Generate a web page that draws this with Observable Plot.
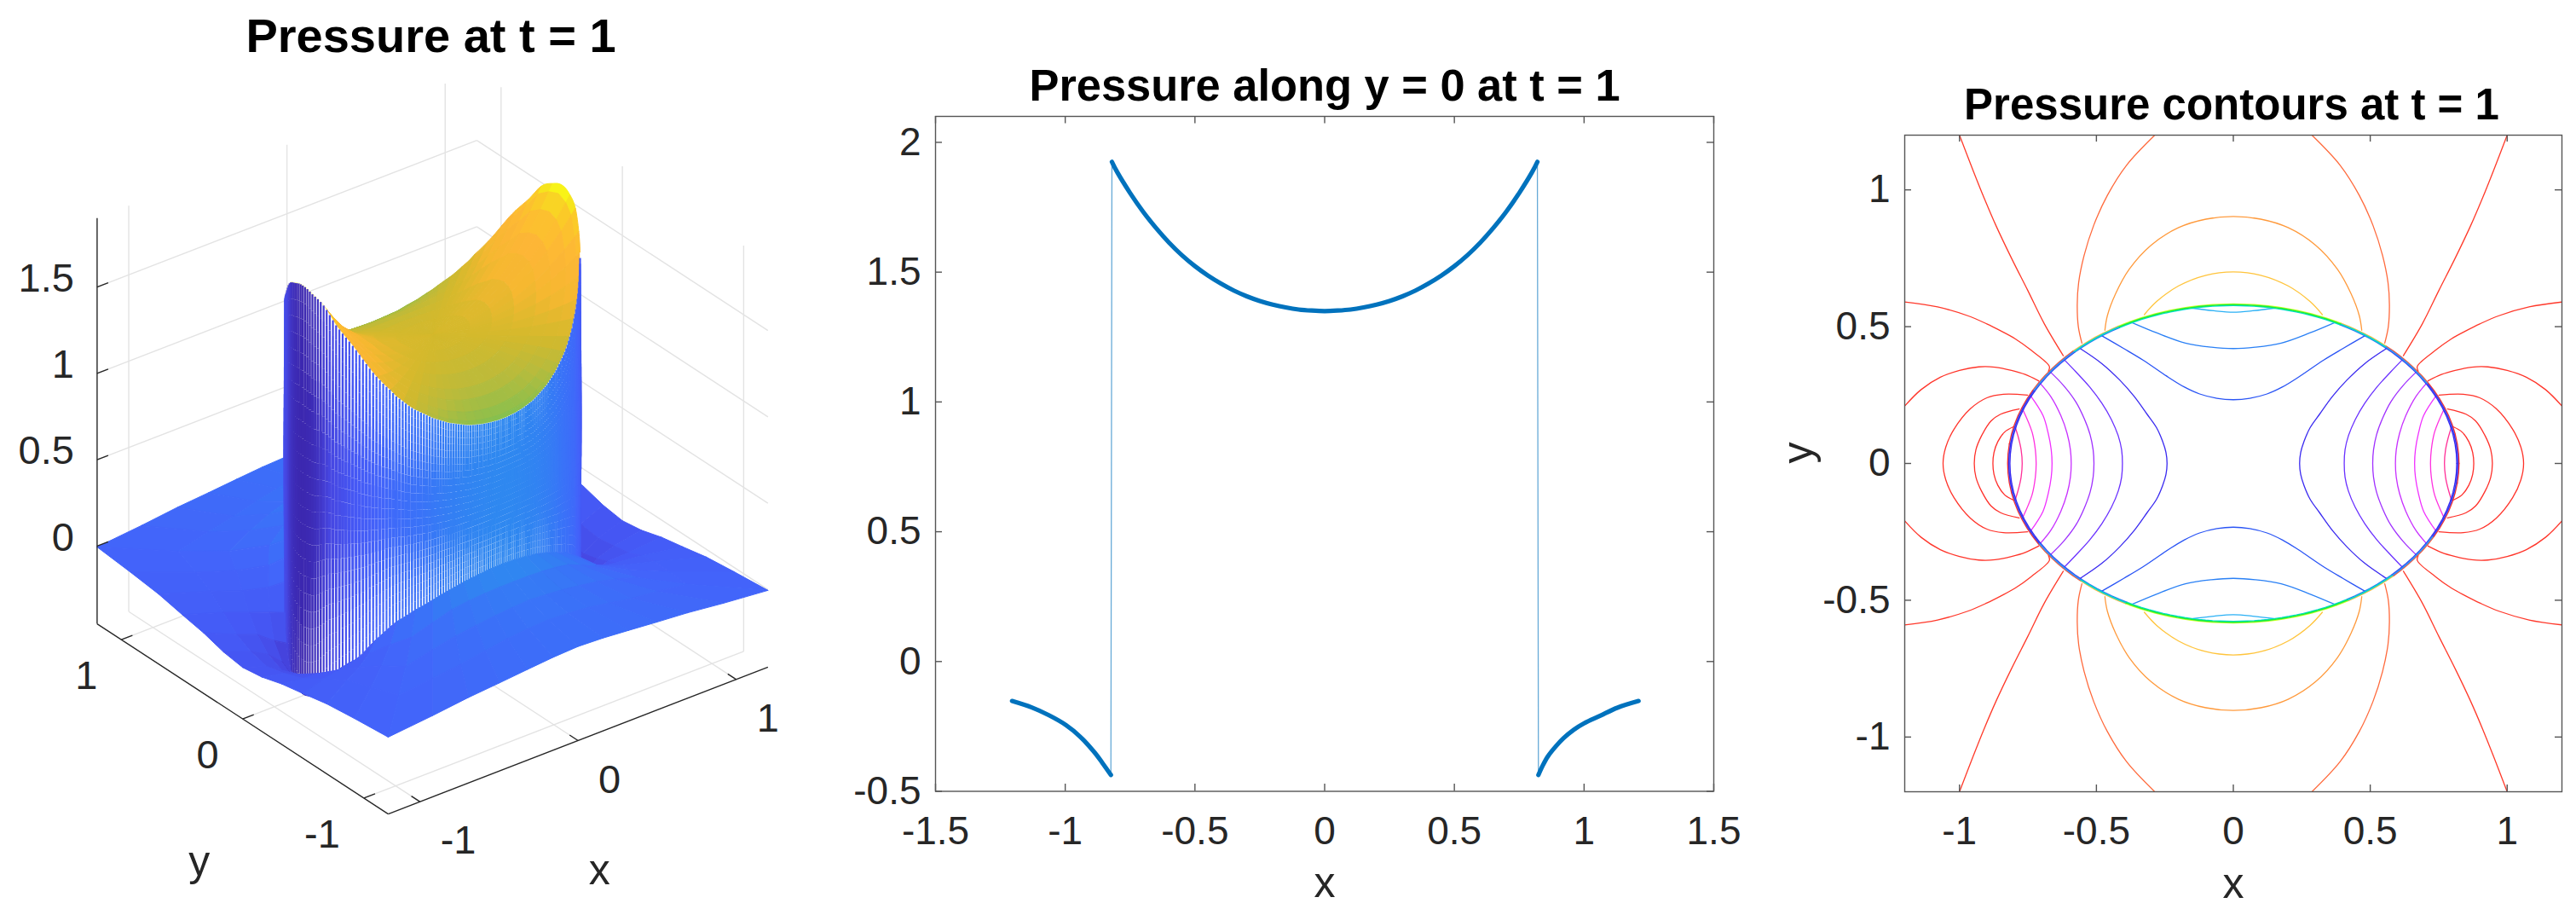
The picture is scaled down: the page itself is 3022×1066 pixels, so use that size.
<!DOCTYPE html>
<html>
<head>
<meta charset="utf-8">
<script src="https://cdn.jsdelivr.net/npm/d3@7"></script>
<script src="https://cdn.jsdelivr.net/npm/@observablehq/plot@0.6"></script>
<style>
html,body{margin:0;padding:0;background:#fff;width:3022px;height:1066px;overflow:hidden;font-family:"Liberation Sans",Arial,sans-serif}
.panel{position:absolute;top:0}
</style>
</head>
<body>
<div class="panel" id="p1" style="left:0"></div>
<div class="panel" id="p2" style="left:1000px"></div>
<div class="panel" id="p3" style="left:2050px"></div>
<script>
// ---------- shared text ----------
const title1 = "Pressure at t = 1";
const title2 = "Pressure along y = 0 at t = 1";
const title3 = "Pressure contours at t = 1";
const ink = "#262626";
const edge = "#555555";
const font = "Liberation Sans";

// ---------- panel 2: pressure along y = 0 ----------
const leftX  = [-1.205,-1.129,-1.063,-0.997,-0.943,-0.888,-0.855,-0.824];
const leftP  = [-0.152,-0.177,-0.207,-0.245,-0.289,-0.349,-0.393,-0.437];
const rightX = [0.824,0.84,0.86,0.89,0.92,0.96,1.0,1.062,1.128,1.21];
const rightP = [-0.437,-0.402,-0.366,-0.328,-0.296,-0.263,-0.238,-0.209,-0.178,-0.152];
const midX = [-0.82,-0.8,-0.75,-0.7,-0.65,-0.6,-0.55,-0.5,-0.45,-0.4,-0.35,-0.3,-0.25,-0.2,-0.15,-0.1,-0.05,0,0.05,0.1,0.15,0.2,0.25,0.3,0.35,0.4,0.45,0.5,0.55,0.6,0.65,0.7,0.75,0.8,0.82];
const midP = [1.925,1.886,1.805,1.733,1.67,1.614,1.565,1.523,1.487,1.456,1.429,1.407,1.389,1.375,1.364,1.356,1.352,1.35,1.352,1.356,1.364,1.375,1.389,1.407,1.429,1.456,1.487,1.523,1.565,1.614,1.67,1.733,1.805,1.886,1.925];
const lineTicksX = [-1.5,-1,-0.5,0,0.5,1,1.5];
const lineTicksY = [-0.5,0,0.5,1,1.5,2];

// ---------- panel 3: contour lines, first quadrant, [x, y] ----------
const contourLevels = [-0.35,-0.27,-0.20,-0.13,-0.06,0.01,0.08,0.15,0.22,1.15,1.23,1.31,1.39,1.47,1.55,1.63,1.71,1.79,1.87];
const contourPaths = [
  [[0.878,0],[0.874,0.04],[0.86,0.08],[0.835,0.115],[0.803,0.134]],
  [[0.946,0],[0.94,0.05],[0.92,0.10],[0.885,0.155],[0.85,0.18],[0.782,0.199]],
  [[1.06,0],[1.05,0.06],[1.02,0.125],[0.96,0.20],[0.90,0.24],[0.84,0.253],[0.751,0.25]],
  [[0.711,0.302],[0.76,0.325],[0.81,0.34],[0.87,0.352],[0.93,0.353],[1.0,0.34],[1.07,0.315],[1.14,0.27],[1.2,0.21]],
  [[0.675,0.337],[0.672,0.355],[0.74,0.415],[0.797,0.456],[0.85,0.485],[0.90,0.51],[0.97,0.54],[1.08,0.572],[1.2,0.59]],
  [[0.621,0.394],[0.69,0.51],[0.751,0.633],[0.81,0.75],[0.867,0.87],[0.91,0.97],[0.95,1.07],[1.0,1.2]],
  [[0.553,0.44],[0.566,0.50],[0.57,0.58],[0.565,0.66],[0.545,0.76],[0.51,0.87],[0.46,0.98],[0.39,1.09],[0.287,1.2]],
  [[0,0.903],[0.1,0.893],[0.2,0.862],[0.3,0.798],[0.38,0.71],[0.43,0.62],[0.46,0.54],[0.469,0.487]],
  [[0,0.70],[0.1,0.688],[0.2,0.649],[0.28,0.592],[0.325,0.544]],
  [[0,0.553],[0.071,0.558],[0.154,0.568]],
  [[0,0.42],[0.08,0.425],[0.175,0.44],[0.279,0.477],[0.377,0.518]],
  [[0,0.233],[0.06,0.238],[0.123,0.254],[0.18,0.28],[0.237,0.315],[0.33,0.378],[0.40,0.42],[0.481,0.467]],
  [[0.242,0],[0.246,0.04],[0.258,0.08],[0.28,0.13],[0.315,0.18],[0.362,0.245],[0.415,0.305],[0.48,0.365],[0.559,0.42]],
  [[0.405,0],[0.408,0.05],[0.42,0.10],[0.445,0.16],[0.48,0.22],[0.525,0.28],[0.575,0.335],[0.621,0.383]],
  [[0.509,0],[0.512,0.05],[0.523,0.105],[0.545,0.165],[0.575,0.225],[0.62,0.285],[0.671,0.337]],
  [[0.592,0],[0.595,0.05],[0.607,0.11],[0.63,0.175],[0.667,0.245],[0.71,0.298]],
  [[0.662,0],[0.665,0.05],[0.676,0.11],[0.695,0.175],[0.741,0.248]],
  [[0.72,0],[0.723,0.05],[0.735,0.115],[0.771,0.202]],
  [[0.771,0],[0.775,0.05],[0.785,0.095],[0.797,0.134]]
];
const contourTicks = [-1,-0.5,0,0.5,1];
const levelStops = [-0.44,0.01,0.08,0.15,0.22,0.31,0.55,1.07,1.15,1.23,1.31,1.39,1.47,1.55,1.63,1.71,1.79,1.87];
const levelHues  = ["#ff2a2a","#ff3a2a","#ff6a3c","#ff9a3c","#ffc43c","#c8ff20","#18ee40","#00d8e0","#2ab0f5","#2a80f5","#2a55f5","#3a2af0","#6a30ff","#a030ff","#c830ff","#f030ff","#ff30e0","#ff3098"];
// stacked rim levels every 15 degrees from the x axis to the y axis
const rimLevelOut = [-0.3,-0.25,0.05,0.2,0.31,0.31,0.31];
const rimLevelMid = [1.37,1.35,1.2,1.0,0.55,0.55,0.55];
const rimLevelIn  = [1.39,1.39,1.35,1.25,1.07,1.07,1.07];

// ---------- panel 1: surface values ----------
const rimA = 0.82, rimB = 0.58;              // jump ellipse half-axes
const zLow = -0.45, zHigh = 1.9, span = 1.2;
// value just inside / outside the jump, every 1.25 degrees from the x axis to the y axis
const rimInside = [1.925,1.924,1.92,1.913,1.905,1.898,1.89,1.88,1.865,1.845,1.82,1.795,1.77,1.75,1.73,1.71,1.69,1.668,1.645,1.62,1.595,1.57,1.545,1.522,1.50,1.48,1.46,1.442,1.425,1.405,1.385,1.37,1.355,1.34,1.325,1.312,1.30,1.29,1.28,1.27,1.26,1.25,1.24,1.232,1.225,1.217,1.21,1.202,1.195,1.19,1.185,1.18,1.175,1.17,1.165,1.16,1.155,1.152,1.15,1.147,1.145,1.142,1.14,1.138,1.137,1.135,1.134,1.133,1.132,1.131,1.13,1.13,1.13];
const rimOutside = [-0.44,-0.439,-0.435,-0.429,-0.42,-0.407,-0.39,-0.37,-0.345,-0.32,-0.295,-0.277,-0.26,-0.24,-0.22,-0.203,-0.185,-0.165,-0.145,-0.125,-0.105,-0.083,-0.06,-0.04,-0.02,-0.002,0.015,0.033,0.05,0.065,0.08,0.09,0.10,0.11,0.12,0.13,0.14,0.148,0.155,0.163,0.17,0.178,0.185,0.193,0.20,0.207,0.213,0.219,0.225,0.23,0.235,0.24,0.245,0.25,0.255,0.259,0.262,0.265,0.268,0.271,0.274,0.277,0.279,0.281,0.283,0.285,0.286,0.287,0.288,0.289,0.29,0.29,0.29];
// outside the jump: rows every 7.5 degrees, columns at these fractions of the way to the box edge
const outerFractions = [0.15,0.35,0.6,1];
const outerValues = [
  [-0.33,-0.255,-0.2,-0.152],
  [-0.29,-0.225,-0.18,-0.135],
  [-0.23,-0.175,-0.15,-0.10],
  [-0.13,-0.115,-0.095,-0.075],
  [-0.05,-0.06,-0.05,-0.045],
  [0.015,-0.015,-0.025,-0.025],
  [0.07,0.02,0,-0.005],
  [0.13,0.075,0.035,0.02],
  [0.18,0.115,0.06,0.045],
  [0.205,0.14,0.09,0.06],
  [0.22,0.16,0.115,0.075],
  [0.228,0.172,0.128,0.088],
  [0.23,0.18,0.135,0.095]
];
// inside the jump: rows at these fractions of the radius, columns every 5 degrees
const innerCentre = 1.35;
const innerFractions = [0.25,0.4,0.55,0.7,0.8,0.9,0.97];
const innerValues = [
  [1.374,1.373,1.371,1.367,1.364,1.36,1.356,1.353,1.35,1.348,1.346,1.345,1.344,1.343,1.342,1.342,1.341,1.341,1.341],
  [1.419,1.417,1.412,1.40,1.391,1.379,1.368,1.359,1.351,1.344,1.339,1.335,1.331,1.329,1.327,1.325,1.324,1.324,1.324],
  [1.496,1.49,1.48,1.456,1.436,1.412,1.388,1.369,1.351,1.337,1.327,1.318,1.311,1.306,1.301,1.298,1.296,1.295,1.294],
  [1.603,1.594,1.577,1.535,1.50,1.458,1.416,1.383,1.352,1.328,1.31,1.295,1.282,1.273,1.264,1.26,1.256,1.254,1.253],
  [1.695,1.683,1.659,1.602,1.554,1.497,1.44,1.395,1.353,1.32,1.296,1.275,1.257,1.245,1.233,1.227,1.222,1.219,1.218],
  [1.801,1.786,1.754,1.68,1.617,1.542,1.468,1.409,1.354,1.311,1.279,1.252,1.228,1.213,1.197,1.189,1.183,1.179,1.177],
  [1.886,1.867,1.83,1.741,1.667,1.578,1.49,1.42,1.355,1.303,1.266,1.233,1.206,1.187,1.168,1.159,1.151,1.147,1.145]
];
const surfaceStops = [-0.44,-0.3,-0.15,0,0.15,0.29,0.7,1.13,1.25,1.35,1.5,1.65,1.8,1.88,1.92];
const surfaceHues = ["#3c28b0","#4645e0","#4558f5","#4364fa","#3a72f8","#2f88f0","#20a8c0","#85c04f","#b8bb3c","#d4b92c","#f5b830","#fdb636","#fcc62a","#f6e51c","#f9fb14"];
const axisTicks3d = [-1,0,1];
const zTicks3d = [0,0.5,1,1.5];

// view of the box: world units to picture units
const toU = (x,y) => 185.6*x - 142.3*y;
const toV = (x,y,z) => 71.7*x + 92.9*y + 202.5*z;
const depthOf = (x,y) => 0.609*x + 0.793*y;
const fold = d => { d = ((d%360)+360)%360; if (d>180) d = 360-d; if (d>90) d = 180-d; return d; };
const rad = d => d*Math.PI/180;
const rimRadius = d => rimA*rimB/Math.hypot(rimB*Math.cos(rad(d)), rimA*Math.sin(rad(d)));
const rimAt = (table,d) => table[Math.round(fold(d)/1.25)];
const edgeRadius = d => { const f = fold(d); return f<=45 ? span/Math.cos(rad(f)) : span/Math.sin(rad(f)); };
const pt = (r,d,z) => { const x=r*Math.cos(rad(d)), y=r*Math.sin(rad(d)); return {x,y,z}; };

function polygonsToRows(polys){
  const rows=[];
  polys.forEach((p,i)=>{
    const mean=d3.mean(p.pts,q=>q.z);
    for(const q of p.pts) rows.push({id:i,u:toU(q.x,q.y),v:toV(q.x,q.y,q.z),c:mean});
  });
  return rows;
}
const byDepth = polys => polys.sort((a,b)=>b.depth-a.depth);
const meanDepth = pts => d3.mean(pts,q=>depthOf(q.x,q.y));
const isFront = d => { d=((d%360)+360)%360; return d>=157.5 && d<=340; };

// outer sheet
const outerRing = (j,d) => j===0 ? pt(rimRadius(d),d,rimAt(rimOutside,d))
  : pt(rimRadius(d)+(edgeRadius(d)-rimRadius(d))*outerFractions[j-1],d,outerValues[Math.round(fold(d)/7.5)][j-1]);
const outerBack=[], outerFront=[];
for(let d=0;d<360;d+=7.5){
  for(let j=0;j<outerFractions.length;j++){
    let pts=[];
    if(j===0){ for(let s=d;s<=d+7.5;s+=1.25) pts.push(outerRing(0,s)); }
    else { pts.push(outerRing(j,d),outerRing(j,d+7.5)); }
    pts.push(outerRing(j+1,d+7.5),outerRing(j+1,d));
    (isFront(d+3.75)?outerFront:outerBack).push({pts,depth:meanDepth(pts)});
  }
}
// inner sheet
const innerRing = (j,d) => j===0 ? {x:0,y:0,z:innerCentre}
  : j>innerFractions.length ? pt(rimRadius(d),d,rimAt(rimInside,d))
  : pt(rimRadius(d)*innerFractions[j-1],d,innerValues[j-1][Math.round(fold(d)/5)]);
const innerPolys=[];
for(let d=0;d<360;d+=5){
  for(let j=0;j<=innerFractions.length;j++){
    let pts=[];
    if(j===0) pts=[innerRing(0,d),innerRing(1,d),innerRing(1,d+5)];
    else {
      pts=[innerRing(j,d)];
      if(j===innerFractions.length){ for(let s=d;s<=d+5;s+=1.25) pts.push(innerRing(j+1,s)); }
      else pts.push(innerRing(j+1,d),innerRing(j+1,d+5));
      pts.push(innerRing(j,d+5));
    }
    innerPolys.push({pts,depth:meanDepth(pts)});
  }
}
// wall of the jump, facing the viewer
const wallSteps=d3.range(160,340,1.25);
const wallFaces=[], wallStripes=[];
const bandWidths=[2,2.1,2.2,2.3,2.5,2.7,2.9,3.1,3.4,3.7,3.9,4,4,3.9,3.7,3.5,3.2,3,2.8,2.6,2.5,2.4,2.3,2.2];
const wallOrder=wallSteps.slice().sort((p,q)=>{
  const a=pt(rimRadius(p),p,0),b=pt(rimRadius(q),q,0);
  return depthOf(b.x,b.y)-depthOf(a.x,a.y);
});
for(const d of wallSteps){
  const a=pt(rimRadius(d),d,rimAt(rimOutside,d)), b=pt(rimRadius(d+1.25),d+1.25,rimAt(rimOutside,d+1.25));
  const pts=[a,b,{...b,z:rimAt(rimInside,d+1.25)},{...a,z:rimAt(rimInside,d)}];
  wallFaces.push({pts,depth:meanDepth(pts)});
}
for(const d of wallOrder){
  const r=rimRadius(d), low=rimAt(rimOutside,d), high=rimAt(rimInside,d), p=pt(r,d,0);
  bandWidths.forEach((w,k)=>{
    const z1=low+(high-low)*k/bandWidths.length, z2=low+(high-low)*(k+1)/bandWidths.length;
    wallStripes.push({u:toU(p.x,p.y),v1:toV(p.x,p.y,z1),v2:toV(p.x,p.y,z2),c:low,w});
  });
}
// box lines
const grid=[];
for(const z of zTicks3d){ grid.push([[-span,span,z],[span,span,z]],[[span,span,z],[span,-span,z]]); }
for(const t of axisTicks3d){
  grid.push([[t,span,zLow],[t,span,zHigh]],[[t,span,zLow],[t,-span,zLow]]);
  grid.push([[span,t,zLow],[span,t,zHigh]],[[span,t,zLow],[-span,t,zLow]]);
}
const black=[
  [[-span,span,zLow],[-span,span,zHigh]],
  [[-span,span,zLow],[-span,-span,zLow]],
  [[-span,-span,zLow],[span,-span,zLow]]
];
for(const z of zTicks3d) black.push([[-span,span,z],[-span+0.07,span,z]]);
for(const t of axisTicks3d){
  black.push([[t,-span,zLow],[t,-span+0.07,zLow]]);
  black.push([[-span,t,zLow],[-span+0.07,t,zLow]]);
}
const seg = s => ({u1:toU(s[0][0],s[0][1]),v1:toV(...s[0]),u2:toU(s[1][0],s[1][1]),v2:toV(...s[1])});
const colorSurface = {type:"linear",domain:surfaceStops,range:surfaceHues,interpolate:"rgb",clamp:true};
const sheet = polys => Plot.line(polygonsToRows(byDepth(polys)),{x:"u",y:"v",z:"id",fill:"c",stroke:"c",strokeWidth:1,curve:"linear-closed"});

document.getElementById("p1").append(Plot.plot({
  width:1000,height:1066,margin:0,
  style:{fontFamily:font,background:"white"},
  x:{domain:[-506.9,493.1],axis:null},
  y:{domain:[665.4-1066,665.4],axis:null},
  color:colorSurface,
  marks:[
    Plot.link(grid.map(seg),{x1:"u1",y1:"v1",x2:"u2",y2:"v2",stroke:"#e3e3e3",strokeWidth:1.4}),
    sheet(outerBack),
    sheet(innerPolys),
    Plot.line(polygonsToRows(wallFaces),{x:"u",y:"v",z:"id",fill:"white",stroke:"white",strokeWidth:0.5}),
    Plot.link(wallStripes,{x1:"u",x2:"u",y1:"v1",y2:"v2",stroke:"c",strokeWidth:"w",strokeLinecap:"butt"}),
    sheet(outerFront),
    Plot.link(black.map(seg),{x1:"u1",y1:"v1",x2:"u2",y2:"v2",stroke:ink,strokeWidth:1.4}),
    Plot.text(zTicks3d,{x:()=>toU(-span,span),y:d=>toV(-span,span,d),text:d=>String(d),textAnchor:"end",dx:-27,dy:-10,fontSize:47,fill:ink}),
    Plot.text(axisTicks3d,{x:d=>toU(d,-span)+(d<0?8:0),y:d=>toV(d,-span,zLow),text:d=>String(d),dx:37,dy:46,fontSize:47,fill:ink}),
    Plot.text(axisTicks3d,{x:d=>toU(-span,d)-(d<0?8:0),y:d=>toV(-span,d,zLow),text:d=>String(d),dx:-41,dy:43,fontSize:47,fill:ink}),
    Plot.text(["x"],{x:()=>toU(0,-span),y:()=>toV(0,-span,zLow),text:d=>d,dx:25,dy:152,fontSize:50,fill:ink}),
    Plot.text(["y"],{x:()=>toU(-span,0),y:()=>toV(-span,0,zLow),text:d=>d,dx:-51,dy:168,fontSize:50,fill:ink}),
    Plot.text([title1],{frameAnchor:"top",lineAnchor:"bottom",text:d=>d,dx:5,dy:60,fontSize:56,fontWeight:"bold",fill:"#000"})
  ]
}));

// ---------- panel 2 ----------
const tuples=(xs,ys)=>xs.map((x,i)=>({x,p:ys[i]}));
const leftRows=tuples(leftX,leftP), midRows=tuples(midX,midP), rightRows=tuples(rightX,rightP);
const blue="#0072bd";
document.getElementById("p2").append(Plot.plot({
  width:1050,height:1066,marginLeft:97,marginRight:40,marginTop:136,marginBottom:138.5,
  style:{fontFamily:font,background:"white"},
  x:{domain:[-1.5,1.5],axis:null},
  y:{domain:[-0.5,2.1],axis:null},
  marks:[
    Plot.frame({stroke:edge,strokeWidth:1.4}),
    Plot.tickX(lineTicksX,{x:d=>d,insetTop:783,stroke:edge,strokeWidth:1.4}),
    Plot.tickX(lineTicksX,{x:d=>d,insetBottom:783,stroke:edge,strokeWidth:1.4}),
    Plot.tickY(lineTicksY,{y:d=>d,insetRight:905,stroke:edge,strokeWidth:1.4}),
    Plot.tickY(lineTicksY,{y:d=>d,insetLeft:905,stroke:edge,strokeWidth:1.4}),
    Plot.axisX({ticks:lineTicksX,tickSize:0,tickPadding:29,fontSize:46,fill:ink,label:null,tickFormat:d=>String(d)}),
    Plot.axisY({ticks:lineTicksY,tickSize:0,tickPadding:17,fontSize:46,fill:ink,label:null,tickFormat:d=>String(d)}),
    Plot.line([...leftRows,...midRows,...rightRows],{x:"x",y:"p",stroke:blue,strokeWidth:1.3,strokeOpacity:0.6}),
    Plot.line(leftRows,{x:"x",y:"p",stroke:blue,strokeWidth:5.2,curve:"catmull-rom"}),
    Plot.line(midRows,{x:"x",y:"p",stroke:blue,strokeWidth:5.2,curve:"catmull-rom"}),
    Plot.line(rightRows,{x:"x",y:"p",stroke:blue,strokeWidth:5.2,curve:"catmull-rom"}),
    Plot.text(["x"],{frameAnchor:"bottom",lineAnchor:"bottom",text:d=>d,dy:124,fontSize:50,fill:ink}),
    Plot.text([title2],{frameAnchor:"top",lineAnchor:"bottom",text:d=>d,dy:-19,fontSize:52.4,fontWeight:"bold",fill:"#000"})
  ]
}));

// ---------- panel 3 ----------
function mirror(path,level,start){
  const rows=[]; let id=start;
  const add=(pts)=>{ pts.forEach(([x,y])=>rows.push({x,y,level,id})); id++; };
  if(path[0][1]===0){
    for(const sx of [1,-1]) add([...path.slice(1).reverse().map(([x,y])=>[sx*x,-y]),...path.map(([x,y])=>[sx*x,y])]);
  } else if(path[0][0]===0){
    for(const sy of [1,-1]) add([...path.slice(1).reverse().map(([x,y])=>[-x,sy*y]),...path.map(([x,y])=>[x,sy*y])]);
  } else {
    for(const sx of [1,-1]) for(const sy of [1,-1]) add(path.map(([x,y])=>[sx*x,sy*y]));
  }
  return rows;
}
let nextId=0;
const contourRows=[];
contourPaths.forEach((p,i)=>{ const r=mirror(p,contourLevels[i],nextId); nextId+=4; contourRows.push(...r); });
const rimSteps=d3.range(0,362.5,2.5);
const rimLayer=(scale,levels,id)=>rimSteps.map(d=>{
  const r=rimRadius(d)*scale;
  return {x:r*Math.cos(rad(d)),y:r*Math.sin(rad(d)),level:levels[Math.round(fold(d)/15)],id};
});
document.getElementById("p3").append(Plot.plot({
  width:972,height:1066,marginLeft:184,marginRight:17,marginTop:158,marginBottom:138,
  style:{fontFamily:font,background:"white"},
  x:{domain:[-1.2,1.2],axis:null},
  y:{domain:[-1.2,1.2],axis:null},
  color:{type:"linear",domain:levelStops,range:levelHues,interpolate:"rgb",clamp:true},
  marks:[
    Plot.line(contourRows,{x:"x",y:"y",z:"id",stroke:"level",strokeWidth:1.3,curve:"catmull-rom",clip:true}),
    Plot.line(rimLayer(1.005,rimLevelOut,"o"),{x:"x",y:"y",z:"id",stroke:"level",strokeWidth:1.4}),
    Plot.line(rimLayer(0.995,rimLevelIn,"i"),{x:"x",y:"y",z:"id",stroke:"level",strokeWidth:1.4}),
    Plot.line(rimLayer(1,rimLevelMid,"m"),{x:"x",y:"y",z:"id",stroke:"level",strokeWidth:1.6}),
    Plot.frame({stroke:edge,strokeWidth:1.4}),
    Plot.tickX(contourTicks,{x:d=>d,insetTop:762,stroke:edge,strokeWidth:1.4}),
    Plot.tickX(contourTicks,{x:d=>d,insetBottom:762,stroke:edge,strokeWidth:1.4}),
    Plot.tickY(contourTicks,{y:d=>d,insetRight:763,stroke:edge,strokeWidth:1.4}),
    Plot.tickY(contourTicks,{y:d=>d,insetLeft:763,stroke:edge,strokeWidth:1.4}),
    Plot.axisX({ticks:contourTicks,tickSize:0,tickPadding:29,fontSize:46,fill:ink,label:null,tickFormat:d=>String(d)}),
    Plot.axisY({ticks:contourTicks,tickSize:0,tickPadding:17,fontSize:46,fill:ink,label:null,tickFormat:d=>String(d)}),
    Plot.text(["x"],{frameAnchor:"bottom",lineAnchor:"bottom",text:d=>d,dy:124,fontSize:50,fill:ink}),
    Plot.text(["y"],{frameAnchor:"left",text:d=>d,rotate:-90,dx:-125,fontSize:50,fill:ink}),
    Plot.text([title3],{frameAnchor:"top",lineAnchor:"bottom",text:d=>d,dx:-2,dy:-19,fontSize:51,fontWeight:"bold",fill:"#000"})
  ]
}));
</script>
</body>
</html>
